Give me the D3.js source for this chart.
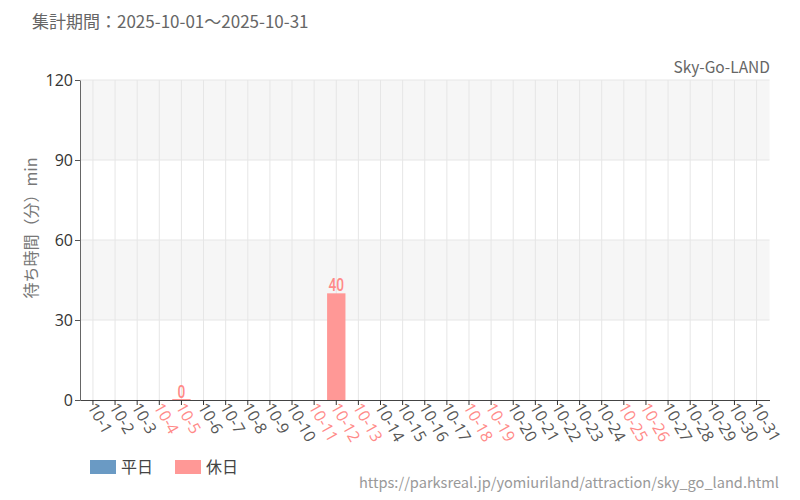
<!DOCTYPE html>
<html>
<head>
<meta charset="utf-8">
<script src="https://d3js.org/d3.v7.min.js"></script>
<style>
body { margin: 0; background: #fff; }
text { font-family: "Noto Sans CJK JP", "Noto Sans", sans-serif; }
</style>
</head>
<body>
<svg width="800" height="500"></svg>
<script>
// data
var days = d3.range(1, 32).map(function(d) { return "10-" + d; });
var holidays = ["10-4", "10-5", "10-11", "10-12", "10-13", "10-18", "10-19", "10-25", "10-26"];
var waitDays = ["10-5", "10-12"];
var waitValues = [0, 40];
var yTicks = [0, 30, 60, 90, 120];

var weekdayColor = "#6a9ac4", holidayColor = "#ff9896";

var svg = d3.select("svg");
var mLeft = 80, mRight = 769.5, mTop = 80, mBottom = 400;

var x = d3.scaleBand().domain(days).range([mLeft, mRight]).padding(0.17);
var y = d3.scaleLinear().domain([0, 120]).range([mBottom, mTop]);

// background bands
var bands = [[90, 120], [30, 60]];
svg.append("g").selectAll("rect").data(bands).enter().append("rect")
  .attr("x", mLeft).attr("width", mRight - mLeft)
  .attr("y", function(d) { return y(d[1]); })
  .attr("height", function(d) { return y(d[0]) - y(d[1]); })
  .attr("fill", "#f6f6f6");

// grid
svg.append("g").selectAll("line").data(yTicks.slice(1)).enter().append("line")
  .attr("x1", mLeft).attr("x2", mRight)
  .attr("y1", function(d) { return y(d); }).attr("y2", function(d) { return y(d); })
  .attr("stroke", "#e6e6e6");
svg.append("g").selectAll("line").data(days).enter().append("line")
  .attr("x1", function(d) { return x(d) + x.bandwidth() / 2; })
  .attr("x2", function(d) { return x(d) + x.bandwidth() / 2; })
  .attr("y1", mTop).attr("y2", mBottom)
  .attr("stroke", "#e6e6e6");

// bars
var bars = waitDays.map(function(d, i) { return {day: d, v: waitValues[i]}; });
svg.append("g").selectAll("rect").data(bars).enter().append("rect")
  .attr("x", function(d) { return x(d.day); })
  .attr("width", x.bandwidth())
  .attr("y", function(d) { return y(d.v) - (d.v == 0 ? 1 : 0); })
  .attr("height", function(d) { return Math.max(1, y(0) - y(d.v)); })
  .attr("fill", function(d) { return holidays.indexOf(d.day) >= 0 ? holidayColor : weekdayColor; });

// value labels (condensed look)
svg.append("g").selectAll("text").data(bars).enter().append("text")
  .attr("transform", function(d) {
    return "translate(" + (x(d.day) + x.bandwidth() / 2) + "," + (y(d.v) - 2) + ") scale(0.72,1)";
  })
  .attr("text-anchor", "middle")
  .style("font-family", "Roboto, sans-serif")
  .style("font-weight", "500")
  .style("font-size", "19px")
  .attr("fill", "#ff8a88")
  .text(function(d) { return d.v; });

// axes
var yAxis = svg.append("g").attr("transform", "translate(" + mLeft + ",0)")
  .call(d3.axisLeft(y).tickValues(yTicks).tickSize(5).tickSizeOuter(0));
yAxis.select(".domain").attr("stroke", "#666");
yAxis.selectAll(".tick line").attr("stroke", "#555");
yAxis.selectAll("text").attr("fill", "#333").style("font-size", "16px")
  .style("font-family", "'Open Sans', sans-serif").attr("x", -7);

var xAxis = svg.append("g").attr("transform", "translate(0," + mBottom + ")")
  .call(d3.axisBottom(x).tickSize(5).tickSizeOuter(0));
xAxis.select(".domain").attr("stroke", "#444").attr("stroke-width", 1.2);
xAxis.selectAll(".tick line").attr("stroke", "#333");
xAxis.selectAll("text")
  .style("font-size", "16px")
  .style("font-family", "'Open Sans', sans-serif")
  .attr("fill", function(d) { return holidays.indexOf(d) >= 0 ? "#ff8a88" : "#555"; })
  .attr("text-anchor", "start")
  .attr("transform", "rotate(60)")
  .attr("x", 3).attr("y", 3).attr("dy", "0.35em");

// titles
svg.append("text").attr("x", 32).attr("y", 28)
  .attr("fill", "#666").style("font-size", "17px")
  .text("集計期間：2025-10-01〜2025-10-31");
svg.append("text").attr("x", 770).attr("y", 73).attr("text-anchor", "end")
  .attr("fill", "#666").style("font-size", "15.5px")
  .text("Sky-Go-LAND");
svg.append("text").attr("transform", "translate(37,228) rotate(-90)")
  .attr("text-anchor", "middle").attr("fill", "#777").style("font-size", "16px")
  .text("待ち時間（分）min");

// legend
var legend = [["平日", weekdayColor], ["休日", holidayColor]];
var lg = svg.append("g").selectAll("g").data(legend).enter().append("g")
  .attr("transform", function(d, i) { return "translate(" + (90 + i * 85) + ",460)"; });
lg.append("rect").attr("width", 26).attr("height", 14).attr("fill", function(d) { return d[1]; });
lg.append("text").attr("x", 31).attr("y", 13).attr("fill", "#444").style("font-size", "16px")
  .text(function(d) { return d[0]; });

svg.append("text").attr("x", 779).attr("y", 488).attr("text-anchor", "end")
  .attr("fill", "#999").style("font-size", "14.6px")
  .text("https://parksreal.jp/yomiuriland/attraction/sky_go_land.html");
</script>
</body>
</html>
